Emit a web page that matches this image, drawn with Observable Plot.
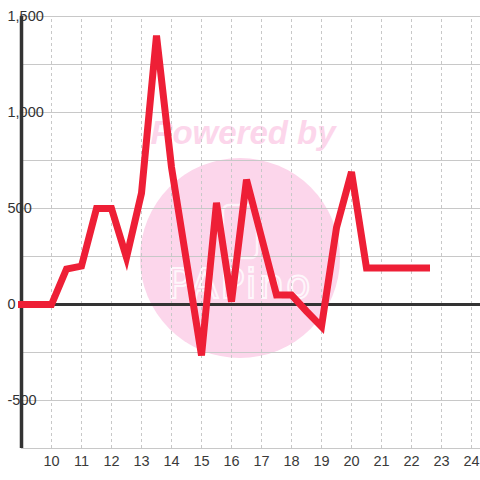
<!DOCTYPE html>
<html><head><meta charset="utf-8">
<script src="https://cdn.jsdelivr.net/npm/d3@7"></script>
<script src="https://cdn.jsdelivr.net/npm/@observablehq/plot@0.6"></script>
<style>html,body{margin:0;padding:0;background:#fff;}</style>
</head><body><div id="chart"></div>
<script>
const hours = [9, 9.5, 10, 10.5, 11, 11.5, 12, 12.5, 13, 13.5, 14, 14.5, 15, 15.5, 16, 16.5, 17, 17.5, 18, 18.5, 19, 19.5, 20, 20.5, 21, 21.5, 22, 22.5];
const values = [0, 0, 0, 185, 200, 500, 500, 245, 580, 1400, 715, 225, -265, 530, 15, 650, 350, 50, 50, -35, -115, 400, 690, 190, 190, 190, 190, 190];
const xTicks = [10, 11, 12, 13, 14, 15, 16, 17, 18, 19, 20, 21, 22, 23, 24];
const yGrid = [-750, -500, -250, 0, 250, 500, 750, 1000, 1250, 1500];
const yLabels = [-500, 0, 500, 1000, 1500];
const watermarkTop = "Powered by";
const watermarkLogo = "PAPino";

const data = hours.map((h, i) => ({hour: h, value: values[i]}));
const fmt = d => d.toLocaleString("en-US");

const plot = Plot.plot({
  width: 480, height: 480,
  marginLeft: 21, marginRight: 0, marginTop: 16, marginBottom: 32,
  style: {fontFamily: "'Liberation Sans', Arial, sans-serif", fontSize: "14px", background: "#fff", color: "#333"},
  x: {domain: [9, 24.3]},
  y: {domain: [-750, 1500], axis: null},
  marks: [
    Plot.ruleY(yGrid, {y: d => d, x1: 9, x2: 24.3, stroke: "#c8c8c8", strokeWidth: 1.2}),
    Plot.ruleX(xTicks, {x: d => d, y1: -750, y2: 1500, stroke: "#c8c8c8", strokeDasharray: "3,3"}),
    Plot.ruleY([0], {y: d => d, x1: 9, x2: 24.3, stroke: "#333", strokeWidth: 3}),
    Plot.ruleX([9], {x: d => d, y1: -750, y2: 1500, stroke: "#333", strokeWidth: 3.5}),
    Plot.line(data, {x: "hour", y: "value", stroke: "#ee1f36", strokeWidth: 7, strokeLinejoin: "miter", strokeMiterlimit: 4, strokeLinecap: "square"}),
    Plot.text(yLabels, {x: 9, y: d => d, text: fmt, textAnchor: "start", dx: -14, fill: "#333", fontSize: 14.5}),
    Plot.axisX(xTicks, {tickSize: 0, tickPadding: 7, fontSize: 14.5, fill: "#3a3a3a", label: null})
  ]
});
document.getElementById("chart").appendChild(plot);

// label backgrounds for y tick labels
const ns = "http://www.w3.org/2000/svg";
plot.querySelectorAll('g[aria-label="text"] text').forEach(t => {
  const b = t.getBBox();
  const r = document.createElementNS(ns, "rect");
  r.setAttribute("x", b.x - 2); r.setAttribute("y", b.y);
  r.setAttribute("width", b.width + 4); r.setAttribute("height", b.height);
  r.setAttribute("fill", "#fff");
  t.parentNode.insertBefore(r, t);
});

// watermark (decoration) behind grid
const wm = document.createElementNS(ns, "g");
wm.innerHTML = `
  <circle cx="240" cy="258" r="100" fill="#fcd6eb"></circle>
  <text x="243" y="144" text-anchor="middle" font-size="33" font-weight="bold" font-style="italic" fill="#fcd6eb" font-family="'Liberation Sans', Arial, sans-serif">${watermarkTop}</text>
  <rect x="223" y="205" width="34" height="53" rx="6" fill="none" stroke="#fff" stroke-width="2.5" opacity="0.7"></rect>
  <text x="240" y="298" text-anchor="middle" font-size="40" letter-spacing="2" fill="none" stroke="#fff" stroke-width="2" opacity="0.8" font-family="'DejaVu Sans', sans-serif">${watermarkLogo}</text>`;
const firstMark = plot.querySelector("g");
plot.insertBefore(wm, firstMark);
</script>
</body></html>
